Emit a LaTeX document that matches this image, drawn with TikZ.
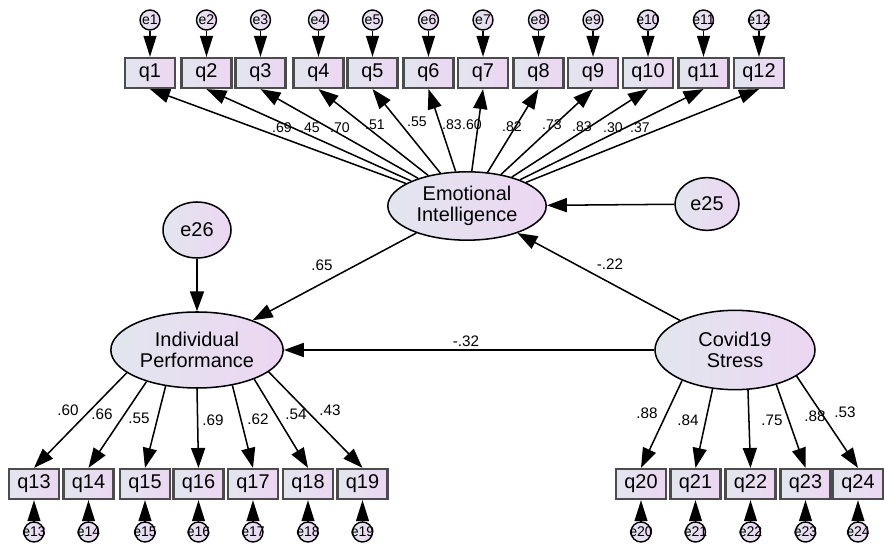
\documentclass[tikz,border=0pt]{standalone}
\usepackage{fontspec}
\setmainfont{Liberation Sans}
\usetikzlibrary{shapes.geometric,arrows.meta}
\definecolor{shadeL}{RGB}{226,230,238}
\definecolor{shadeR}{RGB}{236,214,242}
\tikzset{
    latent/.style={ellipse, draw, line width=1.3pt, left color=shadeL, right color=shadeR, align=center, font=\fontsize{17}{18}\selectfont},
    indic/.style={rectangle, draw=black!70, line width=1.9pt, left color=shadeL, right color=shadeR, minimum width=1.5cm, minimum height=0.9cm, inner sep=0pt, font=\fontsize{17}{17}\selectfont},
    errc/.style={circle, draw, line width=1.2pt, left color=shadeL, right color=shadeR, minimum size=0.6cm, inner sep=-3pt, font=\fontsize{12}{12}\selectfont},
    reg/.style={-{Triangle[length=17pt,width=12pt]}, line width=1.3pt},
    eload/.style={-{Triangle[length=18pt,width=11pt]}, line width=1.3pt},
    coef/.style={inner sep=1pt, font=\fontsize{13}{13}\selectfont}
}
\begin{document}
\begin{tikzpicture}[x=0.03cm, y=-0.03cm]
    \useasboundingbox (0,0) rectangle (884,545);
    % latent variables
    \node[latent, minimum width=4.75cm, minimum height=2.05cm] (EI) at (467,206) {Emotional\\Intelligence};
    \node[latent, minimum width=4.8cm, minimum height=2.28cm] (IP) at (197,350) {Individual\\Performance};
    \node[latent, minimum width=4.8cm, minimum height=2.38cm] (CS) at (735,350) {Covid19\\Stress};
    \node[latent, minimum width=1.92cm, minimum height=1.58cm] (e25) at (707,204) {e25};
    \node[latent, minimum width=2.04cm, minimum height=1.68cm] (e26) at (197,230) {e26};

    % structural paths
    \draw[reg] (e25) -- (EI);
    \draw[reg] (e26) -- (IP);
    \draw[reg] (EI) -- (IP);
    \draw[reg] (CS) -- (EI);
    \draw[reg] (CS) -- (IP);
    \node[coef] (c65) at (322,265) {.65};
    \node[coef] (c22) at (610,264) {-.22};
    \node[coef] (c32) at (466,341) {-.32};

    % emotional intelligence indicators
    \foreach \i/\x/\lx/\ly/\v in {1/150/282/128/.69, 2/206.5/310/128/.45, 3/260.5/340/128/.70,
        4/318.5/375/125/.51, 5/372.5/417/122/.55, 6/428.5/452/125/.83, 7/483/472/125/.60,
        8/538.5/512/127/.82, 9/593/552/125/.73, 10/648/582/127/.83, 11/703.5/613/128/.30,
        12/759/640/128/.37} {
        \node[indic] (q\i) at (\x,73) {q\i};
        \node[errc] (e\i) at (\x,20) {e\i};
        \draw[eload] (e\i) -- (q\i);
        \draw[reg] (EI) -- (q\i.south);
        \node[coef, font=\fontsize{12}{12}\selectfont] (l\i) at (\lx,\ly) {\v};
    }

    % individual performance indicators
    \foreach \i/\x/\a/\lx/\ly/\v in {13/34/198/68/410/.60, 14/88.5/212/102/414/.66, 15/145/229/139/418/.55,
        16/198.5/270/213/420/.69, 17/253/315/258/419/.62, 18/308/333/296/414/.54, 19/362.5/343/330/410/.43} {
        \node[indic] (q\i) at (\x,484) {q\i};
        \node[errc] (e\i) at (\x,532) {e\i};
        \draw[eload] (e\i) -- (q\i);
        \draw[reg] (IP.\a) -- (q\i.north);
        \node[coef] (l\i) at (\lx,\ly) {\v};
    }

    % covid19 stress indicators
    \foreach \i/\x/\a/\lx/\ly/\v in {20/641/210/647/413/.88, 21/695.5/240/688/420/.84, 22/750.5/288/772/420/.75,
        23/805.5/320/815/416/.88, 24/858/337/845/412/.53} {
        \node[indic] (q\i) at (\x,484) {q\i};
        \node[errc] (e\i) at (\x,532) {e\i};
        \draw[eload] (e\i) -- (q\i);
        \draw[reg] (CS.\a) -- (q\i.north);
        \node[coef] (l\i) at (\lx,\ly) {\v};
    }
\end{tikzpicture}
\end{document}
